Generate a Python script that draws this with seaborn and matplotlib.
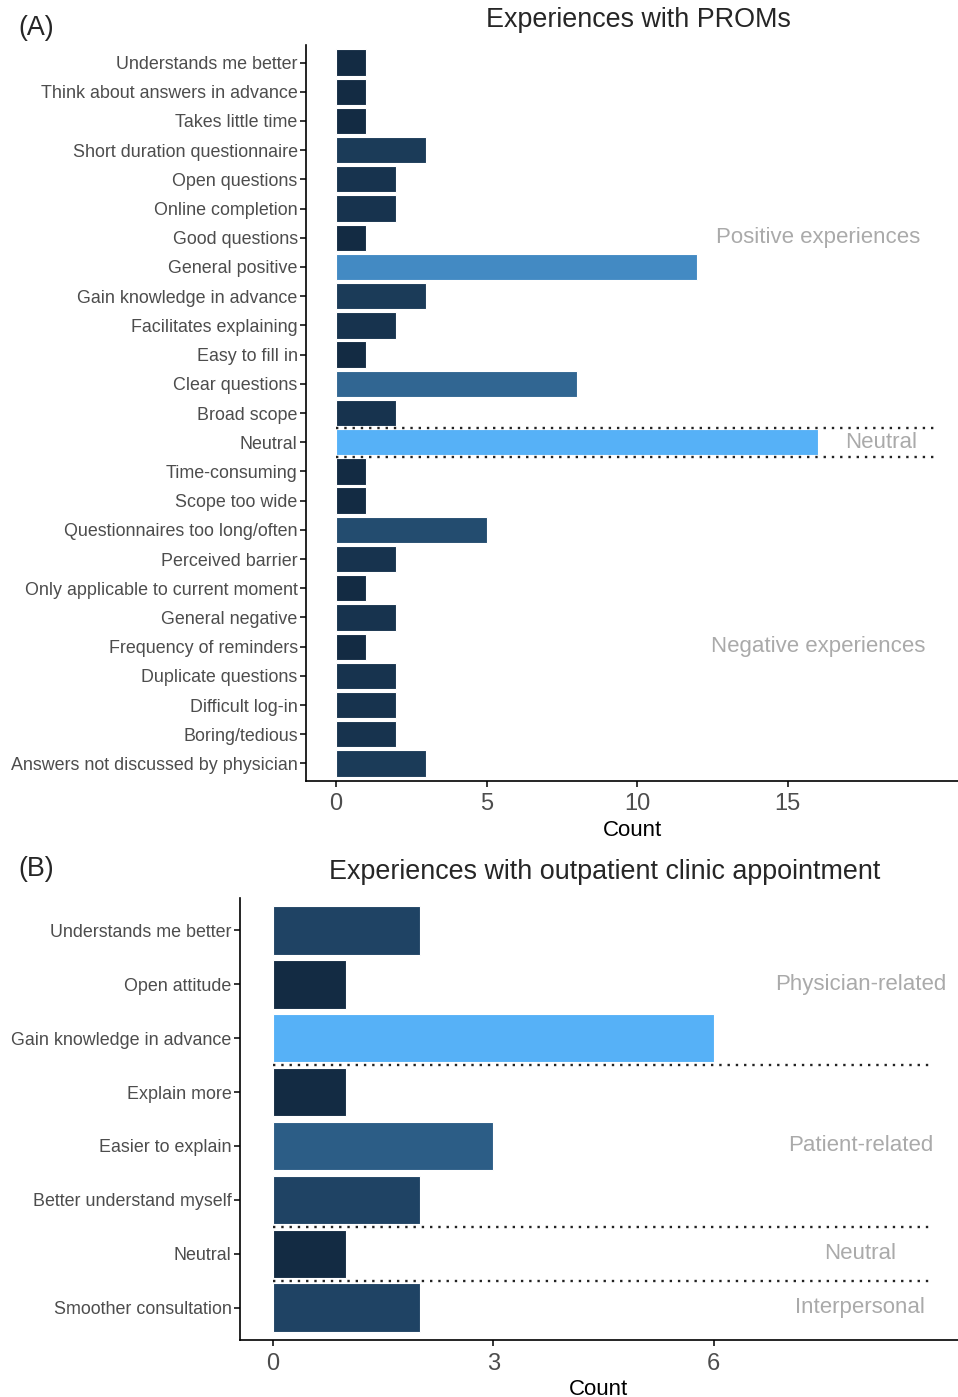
import numpy as np
import matplotlib
matplotlib.use("Agg")
import matplotlib.pyplot as plt
import seaborn as sns

# ---- Data: panel A (PROMs), top to bottom ----
prom_labels = [
    "Understands me better", "Think about answers in advance", "Takes little time",
    "Short duration questionnaire", "Open questions", "Online completion",
    "Good questions", "General positive", "Gain knowledge in advance",
    "Facilitates explaining", "Easy to fill in", "Clear questions", "Broad scope",
    "Neutral", "Time-consuming", "Scope too wide", "Questionnaires too long/often",
    "Perceived barrier", "Only applicable to current moment", "General negative",
    "Frequency of reminders", "Duplicate questions", "Difficult log-in",
    "Boring/tedious", "Answers not discussed by physician",
]
prom_counts = [1, 1, 1, 3, 2, 2, 1, 12, 3, 2, 1, 8, 2,
               16, 1, 1, 5, 2, 1, 2, 1, 2, 2, 2, 3]
prom_groups = ["Positive experiences", "Neutral", "Negative experiences"]
prom_group_rows = [6, 13, 20]          # row where each group label sits
prom_dividers = [12.5, 13.5]

# ---- Data: panel B (outpatient clinic appointment) ----
clinic_labels = [
    "Understands me better", "Open attitude", "Gain knowledge in advance",
    "Explain more", "Easier to explain", "Better understand myself",
    "Neutral", "Smoother consultation",
]
clinic_counts = [2, 1, 6, 1, 3, 2, 1, 2]
clinic_groups = ["Physician-related", "Patient-related", "Neutral", "Interpersonal"]
clinic_group_rows = [1, 4, 6, 7]
clinic_dividers = [2.5, 5.5, 6.5]


# ggplot2 default continuous gradient (#132B43 -> #56B1F7), interpolated in Lab
def srgb_to_lab(rgb):
    c = np.array(rgb, dtype=float)
    c = np.where(c > 0.04045, ((c + 0.055) / 1.055) ** 2.4, c / 12.92)
    m = np.array([[0.4124, 0.3576, 0.1805], [0.2126, 0.7152, 0.0722], [0.0193, 0.1192, 0.9505]])
    xyz = m @ c / np.array([0.95047, 1.0, 1.08883])
    f = np.where(xyz > 0.008856, np.cbrt(xyz), 7.787 * xyz + 16 / 116)
    return np.array([116 * f[1] - 16, 500 * (f[0] - f[1]), 200 * (f[1] - f[2])])


def lab_to_srgb(lab):
    fy = (lab[0] + 16) / 116
    f = np.array([fy + lab[1] / 500, fy, fy - lab[2] / 200])
    xyz = np.where(f ** 3 > 0.008856, f ** 3, (f - 16 / 116) / 7.787) * np.array([0.95047, 1.0, 1.08883])
    m = np.array([[3.2406, -1.5372, -0.4986], [-0.9689, 1.8758, 0.0415], [0.0557, -0.2040, 1.0570]])
    c = m @ xyz
    c = np.where(c > 0.0031308, 1.055 * np.clip(c, 0, None) ** (1 / 2.4) - 0.055, 12.92 * c)
    return tuple(np.clip(c, 0, 1))


low = srgb_to_lab(matplotlib.colors.to_rgb("#132B43"))
high = srgb_to_lab(matplotlib.colors.to_rgb("#56B1F7"))


def gradient(values):
    v = np.array(values, dtype=float)
    t = (v - v.min()) / (v.max() - v.min())
    return [lab_to_srgb(low + (high - low) * ti) for ti in t]


sns.set_style("white")
plt.rcParams["font.family"] = ["Liberation Sans", "DejaVu Sans"]

W, H = 958, 1397
fig = plt.figure(figsize=(W / 100, H / 100), dpi=100)


def px_axes(left, top, right, bottom):
    return fig.add_axes([left / W, 1 - bottom / H, (right - left) / W, (bottom - top) / H])


def draw_panel(ax, labels, counts, xmax, xlim, ticks, groups, group_rows, dividers, label_x):
    sns.barplot(x=counts, y=labels, hue=labels, palette=gradient(counts), legend=False,
                orient="h", width=0.9, edgecolor="white", linewidth=0.8, saturation=1, ax=ax)
    n = len(labels)
    ax.set_ylim(n - 0.4, -0.6)
    ax.set_xlim(*xlim)
    ax.set_xticks(ticks)
    for y in dividers:
        ax.plot([0, xmax], [y, y], color="#222222", lw=1.7, linestyle=(0, (1, 2.5)))
    for g, r in zip(groups, group_rows):
        ax.text(label_x, r, g, color="#AAAAAA", fontsize=16, ha="center", va="center")
    sns.despine(ax=ax)
    for s in ["left", "bottom"]:
        ax.spines[s].set_color("black")
        ax.spines[s].set_linewidth(1.2)
    ax.tick_params(axis="y", length=4, width=1.1, color="black", labelsize=12.9,
                   labelcolor="#4D4D4D", pad=2, left=True)
    ax.tick_params(axis="x", length=4, width=1.1, color="black", labelsize=17,
                   labelcolor="#4D4D4D", pad=5, bottom=True)
    ax.set_ylabel("")
    ax.set_xlabel("Count", fontsize=16, color="black", labelpad=3)


axA = px_axes(306, 45, 958, 781)
draw_panel(axA, prom_labels, prom_counts, 20, (-1, 20.66), [0, 5, 10, 15],
           prom_groups, prom_group_rows, prom_dividers, 16)
# Neutral label sits further right in panel A
axA.texts[1].set_x(18.1)

axB = px_axes(240, 898, 958, 1340)
draw_panel(axB, clinic_labels, clinic_counts, 9, (-0.45, 9.33), [0, 3, 6],
           clinic_groups, clinic_group_rows, clinic_dividers, 8)

fig.text(638 / W, 1 - 20 / H, "Experiences with PROMs", fontsize=19.4, ha="center", va="center")
fig.text(605 / W, 1 - 872 / H, "Experiences with outpatient clinic appointment",
         fontsize=19.4, ha="center", va="center")
fig.text(18 / W, 1 - 28 / H, "(A)", fontsize=19.4, ha="left", va="center")
fig.text(18 / W, 1 - 869 / H, "(B)", fontsize=19.4, ha="left", va="center")

fig.savefig("out.png", dpi=100)
